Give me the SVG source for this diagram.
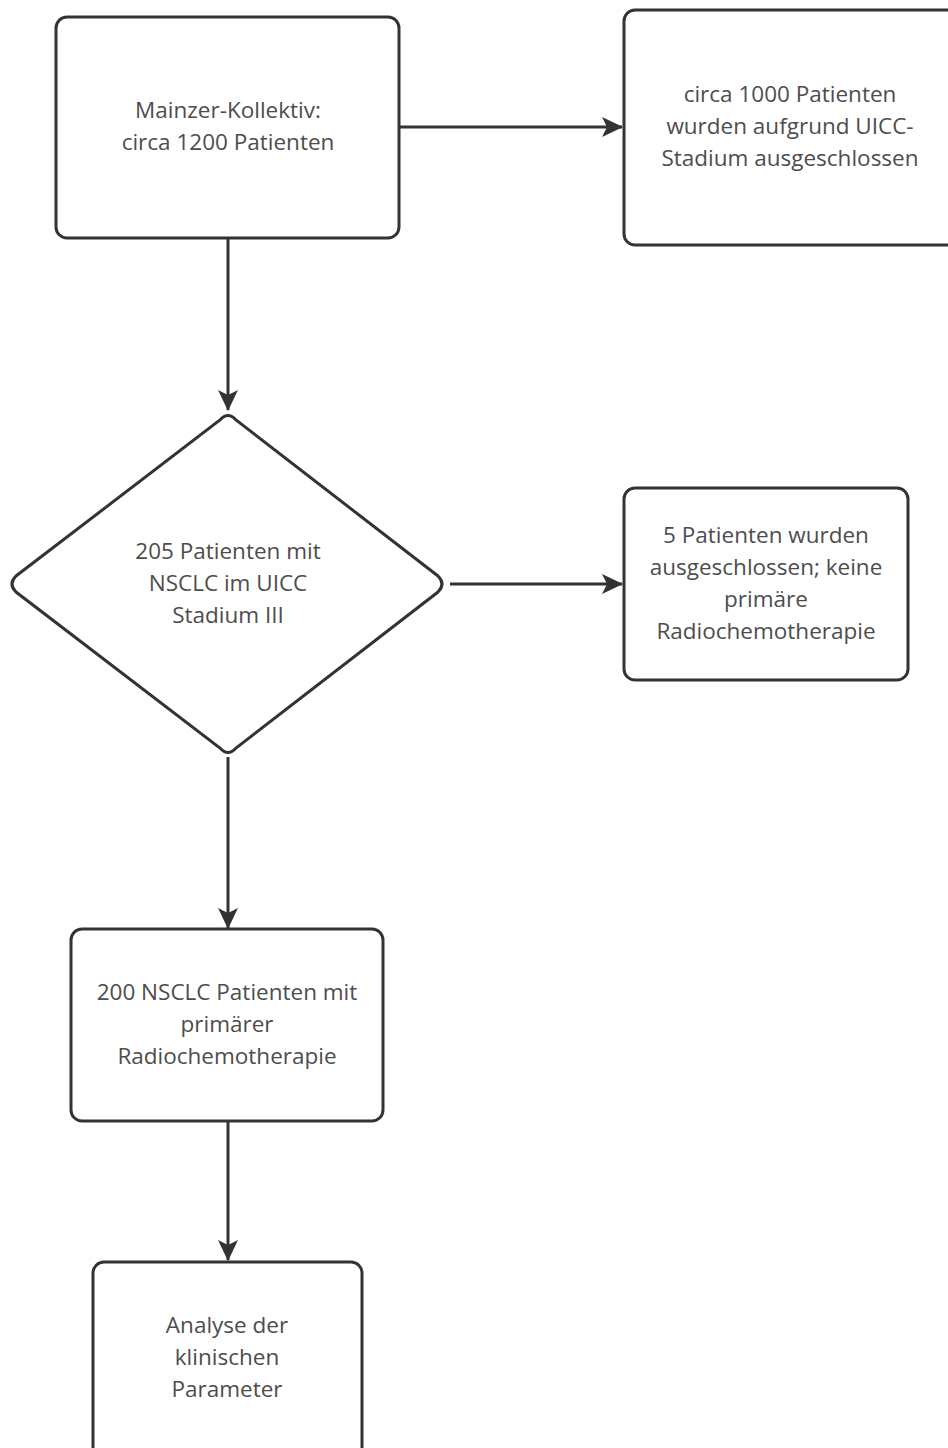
<svg xmlns="http://www.w3.org/2000/svg" width="948" height="1448" viewBox="0 0 948 1448">
<style>
.n{fill:#fff;stroke:#333;stroke-width:3}
.t{font-family:"Open Sans",sans-serif;font-size:22.5px;fill:#4d4d4d;text-anchor:middle}
.c{stroke:#333;stroke-width:3;fill:none}
</style>
<defs>
<marker id="a" viewBox="0 0 22 22" refX="20" refY="11" markerWidth="22" markerHeight="22" markerUnits="userSpaceOnUse" orient="auto">
<path d="M0,1 L21,11 L0,21 L5,11 z" fill="#333"/>
</marker>
</defs>
<rect width="948" height="1448" fill="#fff"/>
<g id="connectors">
<path class="c" d="M400,127 H622" marker-end="url(#a)"/>
<path class="c" d="M228,239 V410" marker-end="url(#a)"/>
<path class="c" d="M450,584 H622" marker-end="url(#a)"/>
<path class="c" d="M228,757 V928" marker-end="url(#a)"/>
<path class="c" d="M228,1122 V1260" marker-end="url(#a)"/>
</g>
<g id="n1">
<rect class="n" x="56" y="17" width="343" height="221" rx="11"/>
<text class="t" x="228" y="118">Mainzer-Kollektiv:</text>
<text class="t" x="228" y="150">circa 1200 Patienten</text>
</g>
<g id="n2">
<rect class="n" x="624" y="10" width="340" height="235" rx="11"/>
<text class="t" x="790" y="102">circa 1000 Patienten</text>
<text class="t" x="790" y="134">wurden aufgrund UICC-</text>
<text class="t" x="790" y="166">Stadium ausgeschlossen</text>
</g>
<g id="n3">
<path class="n" d="M220,420 Q228,411 236,420 L438,576 Q446,584 438,592 L236,748 Q228,757 220,748 L16,592 Q8,584 16,576 Z"/>
<text class="t" x="228" y="559">205 Patienten mit</text>
<text class="t" x="228" y="591">NSCLC im UICC</text>
<text class="t" x="228" y="623">Stadium III</text>
</g>
<g id="n4">
<rect class="n" x="624" y="488" width="284" height="192" rx="11"/>
<text class="t" x="766" y="543">5 Patienten wurden</text>
<text class="t" x="766" y="575">ausgeschlossen; keine</text>
<text class="t" x="766" y="607">primäre</text>
<text class="t" x="766" y="639">Radiochemotherapie</text>
</g>
<g id="n5">
<rect class="n" x="71" y="929" width="312" height="192" rx="11"/>
<text class="t" x="227" y="1000">200 NSCLC Patienten mit</text>
<text class="t" x="227" y="1032">primärer</text>
<text class="t" x="227" y="1064">Radiochemotherapie</text>
</g>
<g id="n6">
<rect class="n" x="93" y="1262" width="269" height="200" rx="11"/>
<text class="t" x="227" y="1333">Analyse der</text>
<text class="t" x="227" y="1365">klinischen</text>
<text class="t" x="227" y="1397">Parameter</text>
</g>
</svg>
